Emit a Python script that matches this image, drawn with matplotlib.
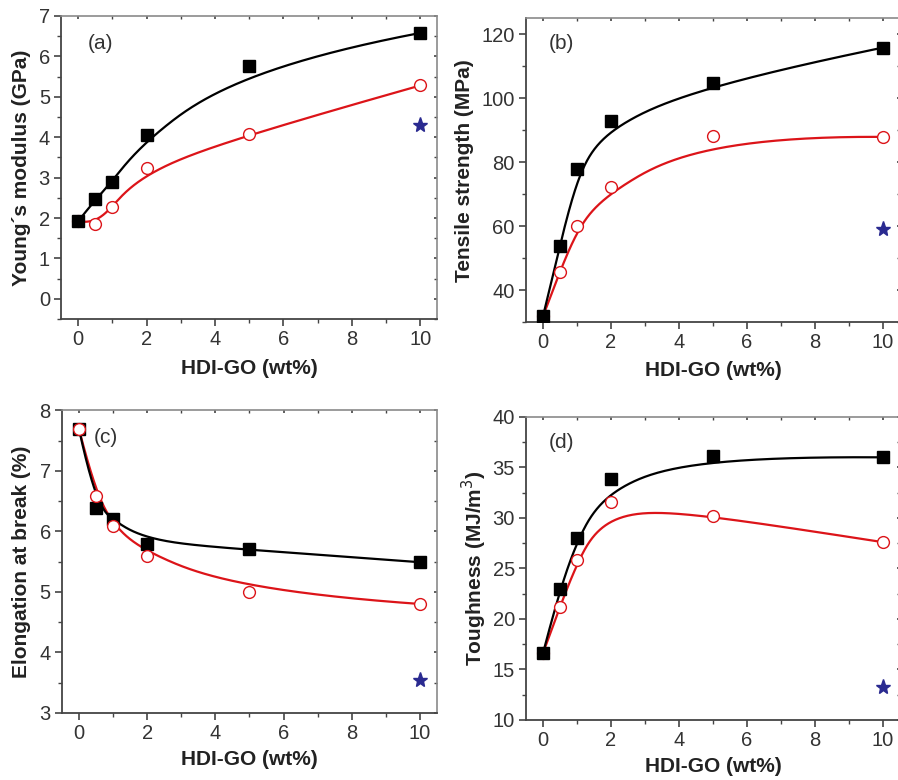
import numpy as np
import matplotlib.pyplot as plt
from matplotlib.ticker import MultipleLocator
from matplotlib.lines import TICKDOWN, TICKLEFT

plt.rcParams['font.family'] = ['Liberation Sans', 'DejaVu Sans']

# HDI-GO loading (wt%)
wt = [0, 0.5, 1, 2, 5, 10]

# (a) Young's modulus (GPa)
modulus_sq = [1.92, 2.46, 2.88, 4.06, 5.77, 6.58]
modulus_ci = [1.92, 1.85, 2.28, 3.25, 4.08, 5.28]
modulus_star = 4.30

# (b) tensile strength (MPa)
strength_sq = [31.8, 53.8, 77.8, 92.8, 104.8, 115.8]
strength_ci = [31.8, 45.8, 59.9, 72.2, 88.2, 87.9]
strength_star = 59.0

# (c) elongation at break (%)
elong_sq = [7.69, 6.39, 6.21, 5.79, 5.70, 5.49]
elong_ci = [7.69, 6.59, 6.09, 5.59, 5.00, 4.80]
elong_star = 3.55

# (d) toughness (MJ/m3)
tough_sq = [16.6, 23.0, 28.0, 33.9, 36.1, 36.0]
tough_ci = [16.6, 21.2, 25.8, 31.6, 30.2, 27.6]
tough_star = 13.3


def bspline(px, py, n=300, k=3):
    """Clamped cubic B-spline using the data points as control points."""
    px = np.asarray(px, float)
    py = np.asarray(py, float)
    m = len(px)
    knots = np.concatenate([np.zeros(k), np.arange(m - k + 1), np.full(k, m - k)]).astype(float)
    t = np.linspace(0, m - k, n)
    t[-1] -= 1e-9
    N = np.zeros((n, len(knots) - 1))
    for i in range(len(knots) - 1):
        N[:, i] = (knots[i] <= t) & (t < knots[i + 1])
    for d in range(1, k + 1):
        for i in range(len(knots) - 1 - d):
            a = knots[i + d] - knots[i]
            b = knots[i + d + 1] - knots[i + 1]
            left = (t - knots[i]) / a * N[:, i] if a > 0 else 0
            right = (knots[i + d + 1] - t) / b * N[:, i + 1] if b > 0 else 0
            N[:, i] = left + right
    N = N[:, :m]
    return N @ px, N @ py


RED = '#dc1419'
STAR = '#2a2a90'
TXT = '#333333'

fig = plt.figure(figsize=(8.98, 7.8), dpi=100)

panels = [
    # rect, squares, circles, star, ylim, major, minor, ylabel, tag, ylab x, xlab y, tag pos, red on top
    ([0.068, 0.591, 0.419, 0.3885], modulus_sq, modulus_ci, modulus_star, (-0.5, 7), 1, 0.5,
     'Young´s modulus (GPa)', '(a)', -0.104, -0.162, (0.07, 0.91), False),
    ([0.5857, 0.587, 0.4165, 0.3897], strength_sq, strength_ci, strength_star, (30, 125), 20, 10,
     'Tensile strength (MPa)', '(b)', -0.163, -0.158, (0.062, 0.918), False),
    ([0.069, 0.086, 0.4176, 0.388], elong_sq, elong_ci, elong_star, (3, 8), 1, 0.5,
     'Elongation at break (%)', '(c)', -0.107, -0.155, (0.085, 0.91), True),
    ([0.5857, 0.077, 0.4165, 0.3885], tough_sq, tough_ci, tough_star, (10, 40), 5, 2.5,
     'Toughness (MJ/m$^3$)', '(d)', -0.139, -0.155, (0.062, 0.914), False),
]

for (rect, sq, ci, star, ylim, major, minor, ylabel, tag, ylx, xly, tpos, red_top) in panels:
    ax = fig.add_axes(rect)

    bx, by = bspline(wt, sq)
    rx, ry = bspline(wt, ci)
    ax.plot(bx, by, color='black', lw=1.6, zorder=3)
    ax.plot(rx, ry, color=RED, lw=1.6, zorder=2)

    zsq, zci = (5, 6) if red_top else (6, 5)
    ax.plot(wt, sq, ls='none', marker='s', ms=8, mfc='black', mec='black', zorder=zsq)
    ax.plot(wt, ci, ls='none', marker='o', ms=8.5, mfc='white', mec=RED, mew=1.0, zorder=zci)
    ax.plot([10], [star], ls='none', marker='*', ms=11, color=STAR, zorder=6)

    ax.set_xlim(-0.5, 10.5)
    ax.set_ylim(*ylim)
    ax.xaxis.set_major_locator(MultipleLocator(2))
    ax.xaxis.set_minor_locator(MultipleLocator(1))
    ax.yaxis.set_major_locator(MultipleLocator(major))
    ax.yaxis.set_minor_locator(MultipleLocator(minor))

    ax.tick_params(which='major', direction='out', length=5, width=1.2, colors='#444444',
                   labelsize=14.5, labelcolor=TXT, pad=3)
    ax.tick_params(which='minor', direction='out', length=3, width=1.0, colors='#444444')
    ax.tick_params(which='both', top=True, right=True, labeltop=False, labelright=False)
    for side in ('left', 'bottom'):
        ax.spines[side].set_color('#444444')
        ax.spines[side].set_linewidth(1.3)
    for side in ('top', 'right'):
        ax.spines[side].set_color('#8a8a8a')
        ax.spines[side].set_linewidth(1.2)
    # the far side of the frame only carries short inner ticks
    for t in ax.xaxis.get_ticklines(minor=False)[1::2] + ax.xaxis.get_ticklines(minor=True)[1::2]:
        t.set_marker(TICKDOWN)
        t.set_markersize(2.5)
        t.set_color('#9a9a9a')
    for t in ax.yaxis.get_ticklines(minor=False)[1::2] + ax.yaxis.get_ticklines(minor=True)[1::2]:
        t.set_marker(TICKLEFT)
        t.set_markersize(2.5)
        t.set_color('#9a9a9a')

    ax.set_xlabel('HDI-GO (wt%)', fontsize=15, fontweight='bold', color='#222222', va='center')
    ax.set_ylabel(ylabel, fontsize=15, fontweight='bold', color='#222222', va='center')
    ax.xaxis.set_label_coords(0.5, xly)
    ax.yaxis.set_label_coords(ylx, 0.5)

    ax.text(tpos[0], tpos[1], tag, transform=ax.transAxes, fontsize=15, color=TXT,
            ha='left', va='center')

fig.savefig('out.png', dpi=100)
